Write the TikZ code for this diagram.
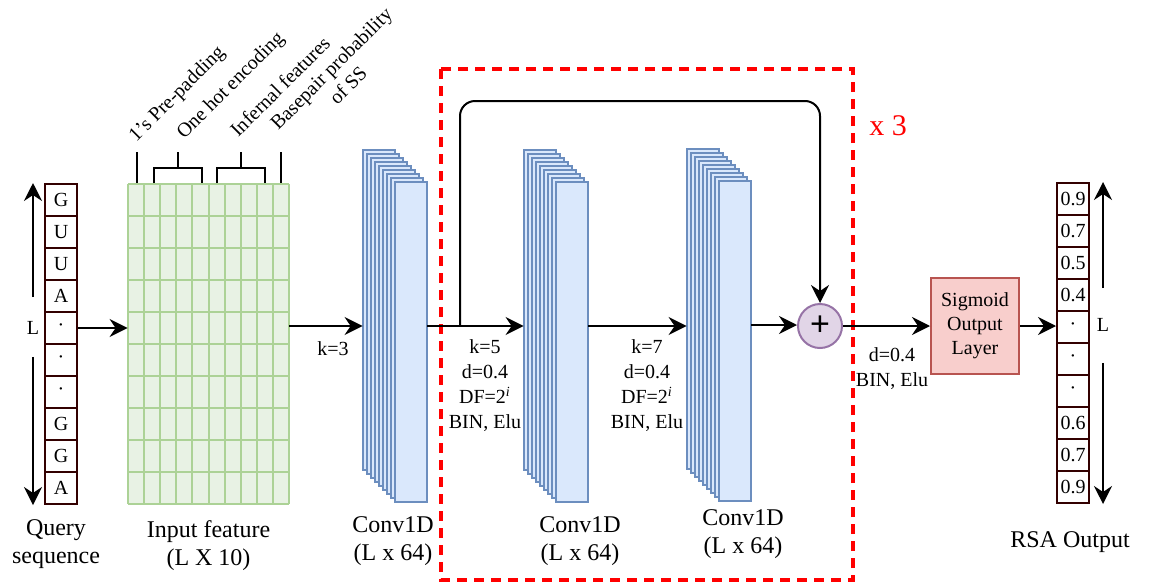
\documentclass[tikz,border=0pt]{standalone}
\usepackage{fontspec}
\setmainfont{Liberation Serif}
\setsansfont{Liberation Sans}
\usetikzlibrary{arrows.meta,positioning}
\definecolor{seqbrown}{RGB}{51,0,0}
\definecolor{featfill}{RGB}{232,242,228}
\definecolor{featline}{RGB}{172,210,150}
\definecolor{convfill}{RGB}{218,232,252}
\definecolor{convline}{RGB}{108,142,191}
\definecolor{sigfill}{RGB}{248,206,204}
\definecolor{sigline}{RGB}{184,84,80}
\definecolor{addfill}{RGB}{225,213,231}
\definecolor{addline}{RGB}{150,115,166}
\definecolor{repred}{RGB}{255,0,0}
\begin{document}
\begin{tikzpicture}[x=0.5pt,y=-0.5pt,
    arr/.style={line width=1pt,-{Stealth[length=9pt,width=9pt,inset=3pt]}},
    cell/.style={draw=seqbrown,line width=1pt,minimum width=16pt,minimum height=16pt,inner sep=0pt,font=\fontsize{10}{12}\selectfont},
    convbox/.style={draw=convline,fill=convfill,line width=0.8pt},
    small/.style={font=\fontsize{10}{12.5}\selectfont,align=center,inner sep=0pt},
    big/.style={font=\fontsize{12}{14}\selectfont,align=center,inner sep=0pt},
    tilt/.style={rotate=45,anchor=base west,inner sep=0pt,font=\fontsize{10}{12}\selectfont}]
\useasboundingbox (0,0) rectangle (1154,584);

% query sequence
\foreach \s [count=\i] in {G,U,U,A,·,·,·,G,G,A}
    \node[cell] (q\i) at (61,{168+32*\i}) {\s};
\node[small] (lq) at (33,328) {L};
\draw[arr] ([yshift=12pt]lq.north) -- (lq |- q1.north);
\draw[arr] ([yshift=-11pt]lq.south) -- (lq |- q10.south);
\node[big,below=7pt of q10,xshift=-2.5pt,text depth=0pt] (qlab) {Query\\sequence};

% input feature grid
\node[fill=featfill,minimum width=80.5pt,minimum height=160pt,inner sep=0pt] (feat) at (208.5,344) {};
\foreach \i in {0,...,10}
    \draw[featline,line width=1pt] ({128+16.1*\i},184) -- ({128+16.1*\i},504);
\foreach \j in {0,...,10}
    \draw[featline,line width=1pt] (128,{184+32*\j}) -- (289,{184+32*\j});
\draw[arr] (q5.east) -- (q5.east -| feat.west);
\node[big,below=8pt of feat] (flab) {Input feature\\(L X 10)};

% brackets and feature labels
\draw[line width=1pt] (137,152) -- (137,183);
\draw[line width=1pt] (154,183) -- (154,168) -- (202,168) -- (202,183) (178,168) -- (178,152);
\draw[line width=1pt] (217,183) -- (217,168) -- (265,168) -- (265,183) (241,168) -- (241,152);
\draw[line width=1pt] (281,152) -- (281,183);
\node[tilt] (lpad) at (136,143) {1's Pre-padding};
\node[tilt] (lhot) at (184,140) {One hot encoding};
\node[tilt] (linf) at (238,138) {Infernal features};
\node[tilt,align=center] (lbp) at (295,148) {Basepair probability\\of SS};

% conv blocks
\foreach \bx/\by/\n in {363/150/1,524/150/2,687/149/3} {
    \foreach \k in {0,...,8}
        \draw[convbox] ({\bx+4*\k},{\by+4*\k}) rectangle ++(32,320);
    \node[inner sep=0pt,minimum width=32pt,minimum height=176pt] (conv\n) at ({\bx+32},{\by+176}) {};
}
\node[big,below=7pt of conv1,xshift=-1pt] (c1lab) {Conv1D\\(L x 64)};
\node[big,below=7pt of conv2,xshift=12pt] (c2lab) {Conv1D\\(L x 64)};
\node[big,below=4pt of conv3,xshift=12pt] (c3lab) {Conv1D\\(L x 64)};

% repeated block
\draw[repred,line width=1.6pt,dash pattern=on 5pt off 3.5pt] (441,69) rectangle (853,580);
\node[text=repred,font=\fontsize{15}{15}\selectfont,inner sep=0pt] (rep) at (888,126) {x 3};

\node[draw=addline,fill=addfill,line width=1pt,circle,minimum size=22pt,inner sep=0pt,font=\fontsize{17}{17}\sffamily] (add) at (820,326) {+};

\draw[arr] (feat.east |- conv1.west) -- (conv1.west);
\node[small] (k3) at (333,349) {k=3};
\draw[arr] (conv1.east) -- (conv1.east -| conv2.west);
\node[small,anchor=north] (p1) at (485,339) {k=5\\d=0.4\\DF=2\textsuperscript{\textit{i}}\\BIN, Elu};
\draw[arr] (conv2.east) -- (conv2.east -| conv3.west);
\node[small,anchor=north] (p2) at (647,339) {k=7\\d=0.4\\DF=2\textsuperscript{\textit{i}}\\BIN, Elu};
\draw[arr] (conv3.east) -- (conv3.east -| add.west);
\coordinate (split) at (460,326);
\draw[arr,rounded corners=7.5pt] (split) -- ++(0,-225) -| (add.north);

% output
\node[draw=sigline,fill=sigfill,line width=1pt,minimum width=44pt,minimum height=48pt,inner sep=0pt,align=center,font=\fontsize{10}{12}\selectfont] (sig) at (975,326) {Sigmoid\\Output\\Layer};
\draw[arr] (add.east) -- (sig.west);
\node[small,anchor=north] (p3) at (892,347) {d=0.4\\BIN, Elu};
\foreach \s [count=\i] in {0.9,0.7,0.5,0.4,·,·,·,0.6,0.7,0.9}
    \node[cell] (o\i) at (1073,{167+32*\i}) {\s};
\draw[arr] (sig.east) -- (sig.east -| o5.west);
\node[small] (lo) at (1103,325) {L};
\draw[arr] ([yshift=15pt]lo.north) -- (lo |- o1.north);
\draw[arr] ([yshift=-15.5pt]lo.south) -- (lo |- o10.south);
\node[big,below=13.5pt of o10,xshift=-1.5pt] (rsa) {RSA Output};
\end{tikzpicture}
\end{document}
